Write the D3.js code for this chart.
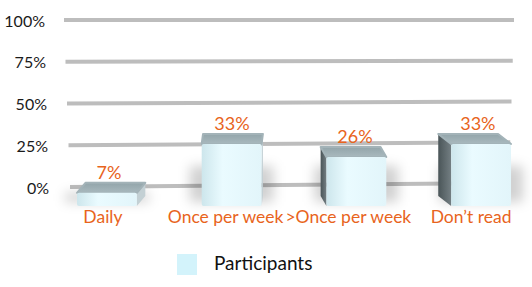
<!DOCTYPE html>
<html>
<head>
<meta charset="utf-8">
<script src="https://cdn.jsdelivr.net/npm/d3@7"></script>
<style>
  body { margin: 0; background: #fff; }
  svg { display: block; font-family: Lato, 'Open Sans', sans-serif; }
</style>
</head>
<body>
<svg id="chart" width="532" height="287"></svg>
<script>
// data
const categories = ['Daily', 'Once per week', '>Once per week', 'Don\u2019t read']
const values = [0.07, 0.33, 0.26, 0.33]
const tickValues = [0, 0.25, 0.5, 0.75, 1]
const seriesName = 'Participants'

const svg = d3.select('#chart')
const orange = '#e8641c'

// grid plane (back) and bar plane (front)
let yGrid = d3.scaleLinear().domain([0, 1]).range([187, 20])
let yBar = d3.scaleLinear().domain([0, 1]).range([206, 18])
let x = d3.scaleBand().domain(categories).range([77, 511]).paddingInner(0.52).paddingOuter(0)
let fmt = d3.format('.0%')

// perspective helpers
const vpX = 255, kx = 0.057, depth = 10

let defs = svg.append('defs')
let gFront = defs.append('linearGradient').attr('id', 'front')
gFront.append('stop').attr('offset', '0%').attr('stop-color', '#cde6ec')
gFront.append('stop').attr('offset', '35%').attr('stop-color', '#eafbff')
gFront.append('stop').attr('offset', '100%').attr('stop-color', '#e2f5fa')
let gSide = defs.append('linearGradient').attr('id', 'side')
gSide.append('stop').attr('offset', '0%').attr('stop-color', '#4a5558')
gSide.append('stop').attr('offset', '100%').attr('stop-color', '#737e82')
let gTop = defs.append('linearGradient').attr('id', 'top').attr('x1', 0).attr('x2', 0).attr('y1', 0).attr('y2', 1)
gTop.append('stop').attr('offset', '0%').attr('stop-color', '#93a5aa')
gTop.append('stop').attr('offset', '100%').attr('stop-color', '#a9b9be')
defs.append('filter').attr('id', 'blur').attr('x', '-50%').attr('y', '-50%').attr('width', '200%').attr('height', '200%')
  .append('feGaussianBlur').attr('stdDeviation', 6)

// gridlines
svg.append('g')
  .selectAll('line')
  .data(tickValues)
  .join('line')
    .attr('x1', d => 64 + (1 - d) * 6)
    .attr('x2', d => 514 - (1 - d) * 5)
    .attr('y1', d => yGrid(d))
    .attr('y2', d => yGrid(d) - (1 - d) * 4)
    .attr('stroke', '#bdbdbd')
    .attr('stroke-width', 4)

// y tick labels
svg.append('g')
  .attr('text-anchor', 'end')
  .attr('font-size', 16)
  .attr('fill', '#1a1a1a')
  .selectAll('text')
  .data(tickValues)
  .join('text')
    .attr('x', d => 45 + (1 - d) * 4)
    .attr('y', d => yGrid(d) + 1)
    .attr('dy', '0.35em')
    .text(d => fmt(d))

let bars = categories.map((c, i) => {
  let x0 = x(c), x1 = x(c) + x.bandwidth()
  let yT = yBar(values[i]), yB = yBar(0)
  let dx = (vpX - (x0 + x1) / 2) * kx
  return { c, v: values[i], x0, x1, yT, yB, dx, dy: depth }
})

// shadows
svg.append('g')
  .attr('filter', 'url(#blur)')
  .selectAll('rect')
  .data(bars)
  .join('rect')
    .attr('x', d => d.x0 - 12)
    .attr('y', d => Math.max(d.yT, d.yB - 40))
    .attr('width', d => d.x1 - d.x0 + 24)
    .attr('height', d => d.yB - Math.max(d.yT, d.yB - 40) - 4)
    .attr('fill', '#000')
    .attr('opacity', 0.18)

let bar = svg.append('g').selectAll('g').data(bars).join('g')

// side face
bar.append('path')
  .attr('d', d => {
    let xe = d.dx > 0 ? d.x1 : d.x0
    return `M${xe},${d.yT}L${xe + d.dx},${d.yT - d.dy}L${xe + d.dx},${d.yB - d.dy}L${xe},${d.yB}Z`
  })
  .attr('fill', d => d.dx > 0 ? '#c3d0d4' : 'url(#side)')

// top face
bar.append('path')
  .attr('d', d => `M${d.x0},${d.yT}L${d.x1},${d.yT}L${d.x1 + d.dx},${d.yT - d.dy}L${d.x0 + d.dx},${d.yT - d.dy}Z`)
  .attr('fill', 'url(#top)')
  .attr('stroke', '#a3b3b8')
  .attr('stroke-width', 2)
  .attr('stroke-linejoin', 'round')

// front face
bar.append('rect')
  .attr('x', d => d.x0)
  .attr('y', d => d.yT)
  .attr('width', d => d.x1 - d.x0)
  .attr('height', d => d.yB - d.yT)
  .attr('rx', 2)
  .attr('fill', 'url(#front)')

// value labels
svg.append('g')
  .attr('text-anchor', 'middle')
  .attr('font-size', 18)
  .attr('fill', orange)
  .selectAll('text')
  .data(bars)
  .join('text')
    .attr('x', d => (d.x0 + d.x1) / 2 + d.dx / 4)
    .attr('y', d => d.yT - d.dy - 4)
    .text(d => fmt(d.v))

// category labels
svg.append('g')
  .attr('text-anchor', 'middle')
  .attr('font-size', 17.5)
  .attr('fill', orange)
  .selectAll('text')
  .data(bars)
  .join('text')
    .attr('x', (d, i) => (d.x0 + d.x1) / 2 - 4 - i * 2)
    .attr('y', 223)
    .text(d => d.c)

// legend
let legend = svg.append('g').attr('transform', 'translate(177,254)')
legend.append('rect').attr('width', 20).attr('height', 21).attr('fill', '#d3f3fb')
legend.append('text')
  .attr('x', 37).attr('y', 16)
  .attr('font-size', 19)
  .attr('fill', '#111')
  .text(seriesName)
</script>
</body>
</html>
